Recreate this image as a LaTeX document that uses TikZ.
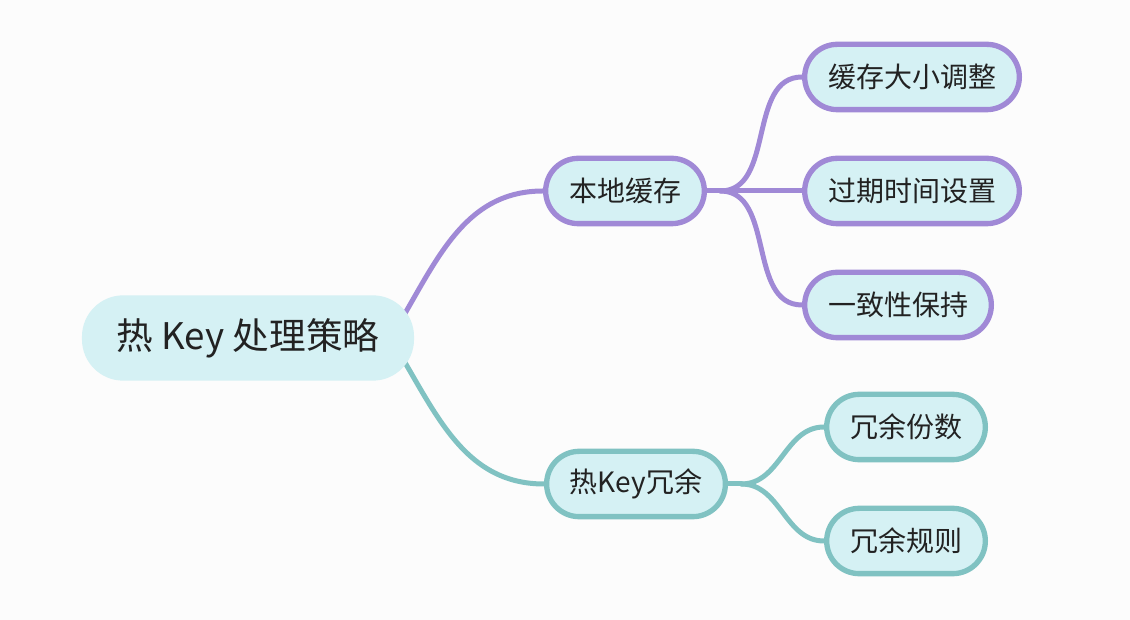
\documentclass[tikz,border=0pt]{standalone}
\usepackage{fontspec}
\setmainfont{Noto Sans CJK SC}
\usetikzlibrary{positioning,backgrounds}
\definecolor{mmpurple}{RGB}{160,137,214}
\definecolor{mmteal}{RGB}{128,194,194}
\definecolor{mmfill}{RGB}{213,241,244}
\definecolor{mmtext}{RGB}{34,34,34}
\definecolor{mmbg}{RGB}{252,252,252}
\tikzset{
  rootnode/.style={fill=mmfill, rounded corners=31pt, minimum height=64pt,
    inner xsep=26pt, text=mmtext, font=\fontsize{27.5}{31}\selectfont},
  subnode/.style={fill=mmfill, draw=#1, line width=4pt, rounded corners=24.5pt,
    minimum height=49pt, inner xsep=17.5pt, text=mmtext,
    font=\fontsize{21}{25}\selectfont},
  brline/.style={draw=#1, line width=3.75pt, line cap=round},
}

\begin{document}
\begin{tikzpicture}[x=0.75pt, y=0.75pt]
\useasboundingbox (0,0) rectangle (1130,620);
% topic and branches
\node[rootnode] (root) at (248,282) {热 Key 处理策略};
\node[subnode=mmpurple] (local) at (625,429) {本地缓存};
\node[subnode=mmteal] (redund) at (636,136) {热Key冗余};
% leaves
\node[subnode=mmpurple] (size) at (912,543) {缓存大小调整};
\node[subnode=mmpurple] (expire) at (912,429) {过期时间设置};
\node[subnode=mmpurple] (consist) at (898,315) {一致性保持};
\node[subnode=mmteal] (copies) at (906,193) {冗余份数};
\node[subnode=mmteal] (rules) at (906,79) {冗余规则};
\coordinate (rootout) at ([xshift=-18pt]root.east);
\coordinate (localfork) at ([xshift=10pt]local.east);
\coordinate (redfork) at ([xshift=10pt]redund.east);
\begin{scope}[on background layer]
  \fill[mmbg] (0,0) rectangle (1130,620);
  \draw[brline=mmpurple] (rootout) to[out=58, in=180] (local.west);
  \draw[brline=mmteal] (rootout) to[out=-58, in=180] (redund.west);
  \draw[brline=mmpurple] (local.east) -- (localfork);
  \foreach \leaf in {size, expire, consist}
    \draw[brline=mmpurple] (localfork) to[out=0, in=180] (\leaf.west);
  \draw[brline=mmteal] (redund.east) -- (redfork);
  \foreach \leaf in {copies, rules}
    \draw[brline=mmteal] (redfork) to[out=0, in=180] (\leaf.west);
\end{scope}
\end{tikzpicture}
\end{document}
